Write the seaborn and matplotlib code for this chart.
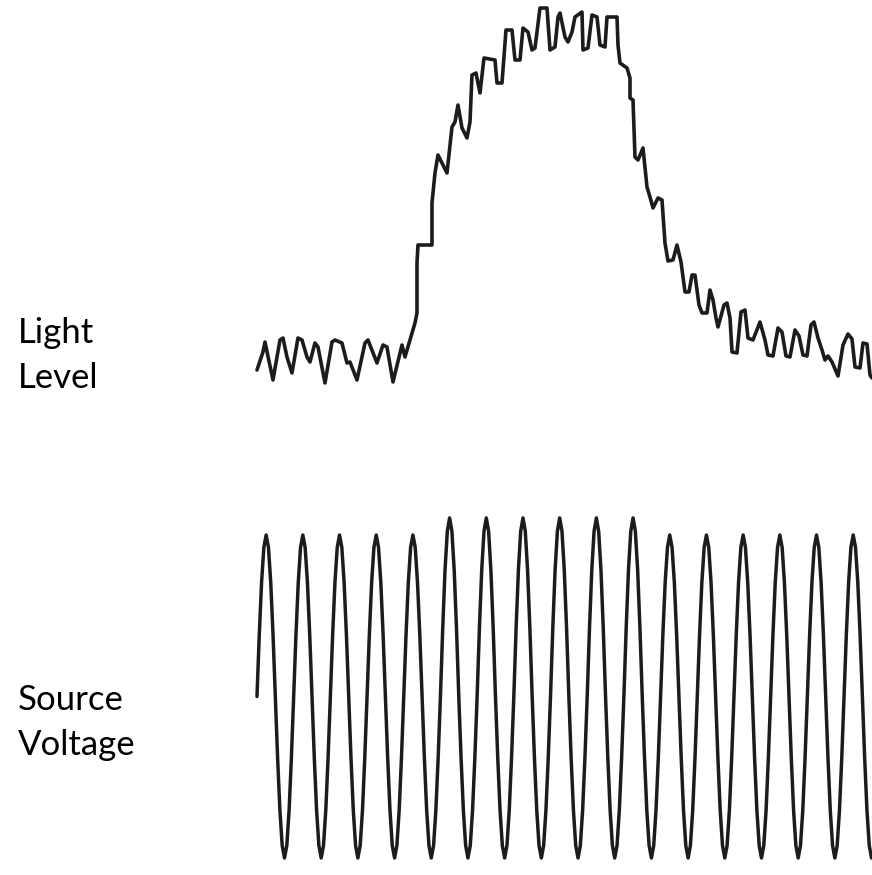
import numpy as np
import pandas as pd
import matplotlib
matplotlib.use('Agg')
import matplotlib.pyplot as plt
import seaborn as sns

# ── Data ──────────────────────────────────────────────────────────────────────
# light level trace (time in arbitrary units, level in arbitrary units)
light_time = [0, 6, 8, 16, 23, 26, 30, 35, 41, 45, 50, 53, 58, 61, 68, 75, 78, 85, 90, 93,
              100, 108, 111, 120, 126, 130, 136, 145, 148, 153, 156, 158, 160, 160, 161, 175,
              175, 178, 181, 190, 195, 198, 201, 205, 210, 213, 215, 219, 223, 227, 238, 240,
              245, 249, 255, 258, 263, 266, 271, 275, 278, 283, 290, 293, 298, 301, 303, 308,
              311, 315, 318, 325, 326, 331, 335, 340, 343, 348, 350, 360, 361, 363, 370, 373,
              373, 376, 378, 381, 386, 390, 393, 396, 401, 405, 408, 411, 416, 420, 424, 428,
              432, 435, 438, 442, 445, 450, 453, 456, 459, 461, 467, 470, 473, 475, 480, 484,
              488, 491, 496, 503, 508, 511, 516, 521, 525, 529, 533, 538, 542, 546, 550, 554,
              557, 561, 565, 568, 571, 575, 581, 586, 591, 595, 598, 603, 606, 610, 613, 615]
light_level = [20, 38, 48, 10, 50, 52, 33, 17, 52, 50, 33, 28, 47, 43, 7, 48, 50, 47, 27, 28,
               10, 47, 50, 27, 45, 43, 8, 45, 33, 50, 60, 67, 77, 127, 145, 145,
               187, 217, 235, 217, 263, 268, 285, 262, 252, 268, 315, 317, 297, 332, 330, 307,
               307, 360, 360, 330, 330, 362, 358, 340, 342, 382, 382, 340, 343, 373, 377, 353,
               348, 358, 373, 378, 340, 342, 375, 373, 345, 343, 373, 373, 345, 327, 322, 312,
               292, 290, 233, 230, 242, 203, 193, 182, 192, 190, 147, 129, 130, 145, 128, 98,
               98, 115, 115, 85, 77, 77, 100, 90, 72, 63, 85, 87, 72, 38, 37, 78,
               80, 52, 50, 68, 50, 35, 34, 62, 58, 34, 33, 60, 54, 35, 34, 65,
               68, 52, 40, 30, 34, 28, 14, 45, 56, 51, 23, 22, 47, 46, 15, 12]

# source voltage (V), sampled 16 times per cycle
voltage = [
    0, 65, 120, 157, 170, 157, 120, 65, 0, -65, -120, -157, -170, -157, -120, -65,
    0, 65, 120, 157, 170, 157, 120, 65, 0, -65, -120, -157, -170, -157, -120, -65,
    0, 65, 120, 157, 170, 157, 120, 65, 0, -65, -120, -157, -170, -157, -120, -65,
    0, 65, 120, 157, 170, 157, 120, 65, 0, -65, -120, -157, -170, -157, -120, -65,
    0, 65, 120, 157, 170, 157, 120, 65, 0, -65, -120, -157, -170, -157, -120, -65,
    0, 72, 133, 174, 188, 174, 133, 72, 0, -65, -120, -157, -170, -157, -120, -65,
    0, 72, 133, 174, 188, 174, 133, 72, 0, -65, -120, -157, -170, -157, -120, -65,
    0, 72, 133, 174, 188, 174, 133, 72, 0, -65, -120, -157, -170, -157, -120, -65,
    0, 72, 133, 174, 188, 174, 133, 72, 0, -65, -120, -157, -170, -157, -120, -65,
    0, 72, 133, 174, 188, 174, 133, 72, 0, -65, -120, -157, -170, -157, -120, -65,
    0, 72, 133, 174, 188, 174, 133, 72, 0, -65, -120, -157, -170, -157, -120, -65,
    0, 65, 120, 157, 170, 157, 120, 65, 0, -65, -120, -157, -170, -157, -120, -65,
    0, 65, 120, 157, 170, 157, 120, 65, 0, -65, -120, -157, -170, -157, -120, -65,
    0, 65, 120, 157, 170, 157, 120, 65, 0, -65, -120, -157, -170, -157, -120, -65,
    0, 65, 120, 157, 170, 157, 120, 65, 0, -65, -120, -157, -170, -157, -120, -65,
    0, 65, 120, 157, 170, 157, 120, 65, 0, -65, -120, -157, -170, -157, -120, -65,
    0, 65, 120, 157, 170, 157, 120, 65, 0, -65, -120, -157, -170,
]
cycle_length = 36.69
voltage_time = np.arange(len(voltage)) * cycle_length / 16

labels_top = ['Light', 'Level']
labels_bottom = ['Source', 'Voltage']

light_df = pd.DataFrame({'t': light_time, 'level': light_level})
volt_df = pd.DataFrame({'t': voltage_time, 'v': voltage})

# ── Figure ────────────────────────────────────────────────────────────────────
sns.set_theme(style='white')
plt.rcParams['font.family'] = ['Lato', 'DejaVu Sans']

fig = plt.figure(figsize=(8.72, 8.75), dpi=100)
line_color = '#1c1c1c'

ax1 = fig.add_axes([0.2947, 0.5543, 0.7053, 0.4457])
sns.lineplot(data=light_df, x='t', y='level', ax=ax1, estimator=None, sort=False,
             color=line_color, linewidth=2.6, clip_on=False,
             solid_joinstyle='round', solid_capstyle='round')
ax1.set_xlim(0, 615)
ax1.set_ylim(0, 390)
ax1.set_axis_off()

ax2 = fig.add_axes([0.2947, 0.00857, 0.7053, 0.41257])
sns.lineplot(data=volt_df, x='t', y='v', ax=ax2, estimator=None, sort=False,
             color=line_color, linewidth=2.5, clip_on=False,
             solid_joinstyle='round', solid_capstyle='round')
ax2.set_xlim(0, 615)
ax2.set_ylim(-180, 200)
ax2.set_axis_off()

for i, txt in enumerate(labels_top):
    fig.text(18 / 872, 1 - (343 + 45 * i) / 875, txt, fontsize=25, va='baseline', color='black')
for i, txt in enumerate(labels_bottom):
    fig.text(18 / 872, 1 - (710 + 45 * i) / 875, txt, fontsize=25, va='baseline', color='black')

fig.savefig('out.png', dpi=100)
